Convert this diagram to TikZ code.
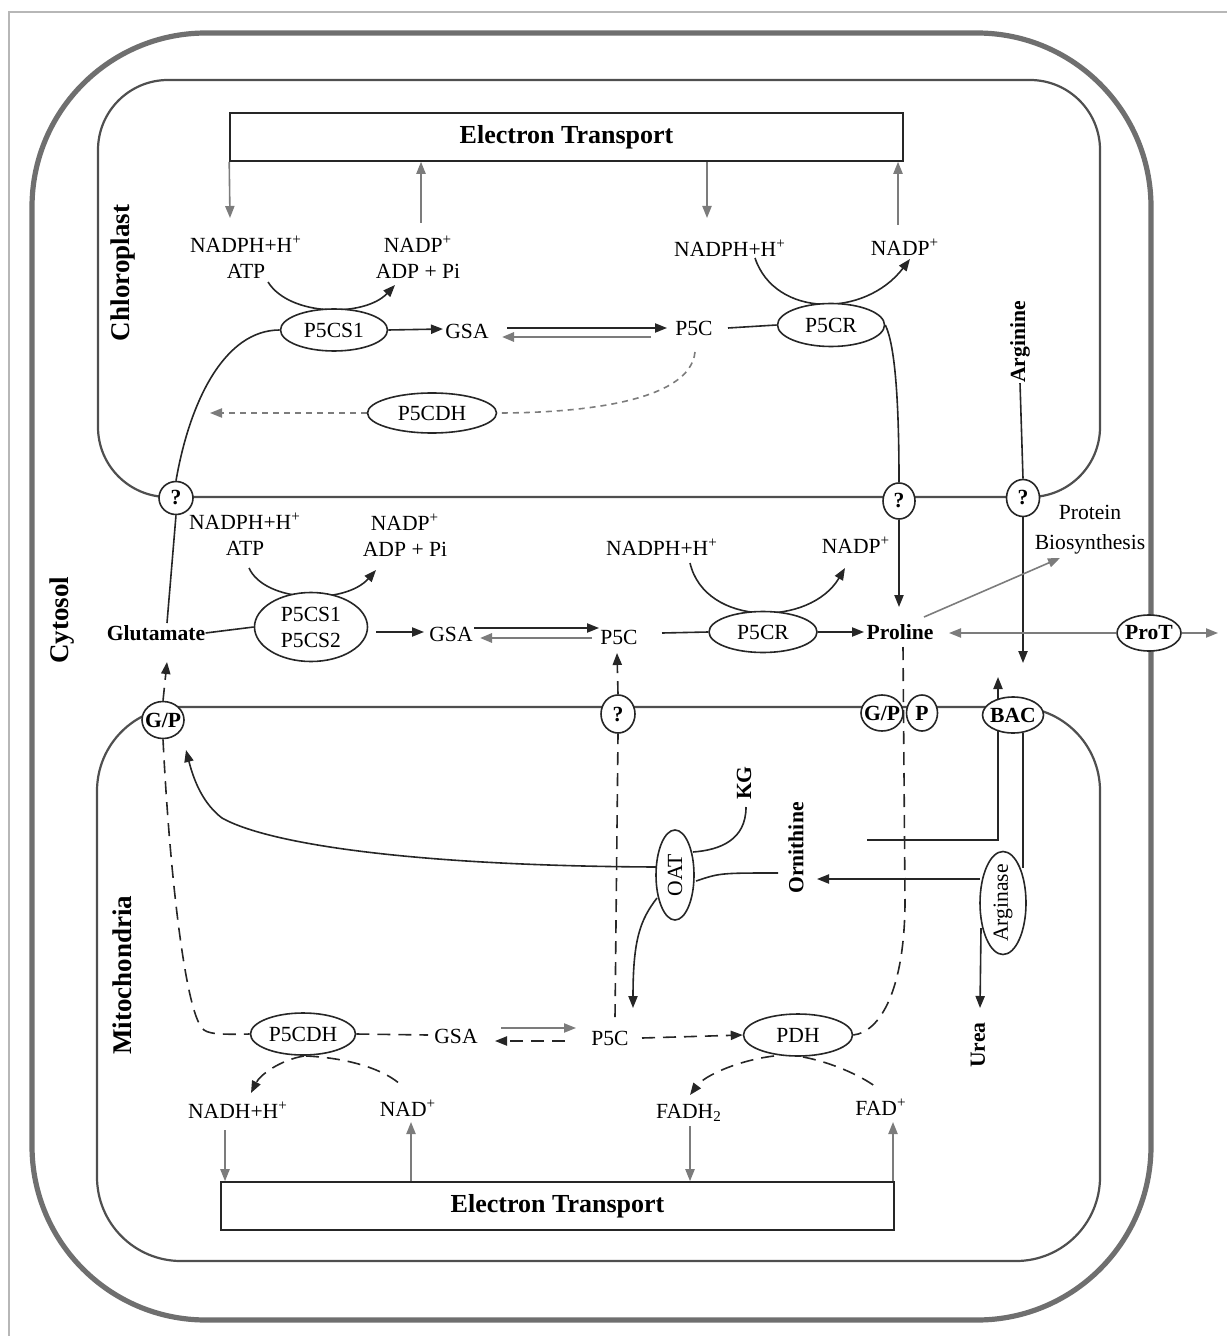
\documentclass[tikz,border=0pt]{standalone}
\usepackage{fontspec}
\setmainfont{Liberation Serif}
\usetikzlibrary{arrows.meta,shapes.geometric,backgrounds}
\definecolor{ln}{HTML}{262626}
\definecolor{gr}{HTML}{7C7C7C}
\definecolor{wall}{HTML}{6F6F6F}
\definecolor{memb}{HTML}{4F4F4F}
\tikzset{
  lab/.style={inner sep=0pt, align=center, font=\fontsize{10.8}{13}\selectfont},
  blab/.style={inner sep=0pt, align=center, font=\fontsize{10.8}{13}\selectfont\bfseries},
  rblab/.style={blab, rotate=90},
  cmp/.style={inner sep=0pt, rotate=90, font=\fontsize{13.5}{16}\selectfont\bfseries},
  enz/.style={ellipse, draw=ln, line width=0.8pt, fill=white, inner sep=0pt, align=center, font=\fontsize{10.8}{13}\selectfont},
  trn/.style={ellipse, draw=ln, line width=0.8pt, fill=white, inner xsep=-3pt, inner ysep=-1pt, font=\fontsize{10.8}{13}\selectfont\bfseries},
  etbox/.style={rectangle, draw=ln, line width=0.8pt, fill=white, inner sep=0pt, minimum width=336.5pt, minimum height=24pt, font=\fontsize{13}{15}\selectfont\bfseries},
  con/.style={draw=ln, line width=0.8pt},
  arr/.style={con, -{Triangle[length=6pt,width=4.6pt]}},
  garr/.style={draw=gr, line width=0.8pt, -{Triangle[length=6pt,width=4.6pt]}},
  dsh/.style={con, dash pattern=on 6.5pt off 4pt},
  darr/.style={dsh, -{Triangle[length=6pt,width=4.6pt]}},
  gdsh/.style={draw=gr, line width=0.8pt, dash pattern=on 3pt off 2.5pt},
  gdarr/.style={gdsh, -{Triangle[length=6pt,width=4.6pt]}},
  cmpt/.style={draw=memb, line width=1.1pt},
}
\begin{document}
\begin{tikzpicture}[x=0.5pt,y=-0.5pt]
\useasboundingbox (0,0) rectangle (1227,1336);

% ---------- nodes ----------
\node[etbox] (etT) at (566.5,137) {Electron Transport};
\node[etbox] (etB) at (557.5,1206) {Electron Transport};

\node[cmp] (chl) at (123,273) {Chloroplast};
\node[cmp] (cyt) at (62,620) {Cytosol};
\node[cmp] (mit) at (122,975) {Mitochondria};

% chloroplast
\node[lab] (t1) at (246,257) {NADPH+H\textsuperscript{+}\\ATP};
\node[lab] (t2) at (418,257) {NADP\textsuperscript{+}\\ADP + Pi};
\node[enz, minimum width=53.5pt, minimum height=21pt] (e1) at (334,330) {P5CS1};
\node[lab] (gsa1) at (467,331) {GSA};
\node[lab] (p5c1) at (694,328) {P5C};
\node[enz, minimum width=53.5pt, minimum height=21.5pt] (e2) at (831,325) {P5CR};
\node[lab] (t3) at (730,248) {NADPH+H\textsuperscript{+}};
\node[lab] (t4) at (905,247) {NADP\textsuperscript{+}};
\node[enz, minimum width=64.5pt, minimum height=20pt] (e3) at (432,413) {P5CDH};
\node[rblab] (arg) at (1020,342) {Arginine};

% transporters
\node[trn, minimum width=17pt, minimum height=16.5pt] (q1) at (176,498) {?};
\node[trn, minimum width=16pt, minimum height=18pt] (q2) at (899,501) {?};
\node[trn, minimum width=16.5pt, minimum height=18.5pt] (q3) at (1023,498) {?};
\node[trn, minimum width=21pt, minimum height=18.5pt] (gp1) at (163,720) {G/P};
\node[trn, minimum width=17pt, minimum height=19pt] (q4) at (618,714) {?};
\node[trn, minimum width=21pt, minimum height=18pt] (gp2) at (882,713) {G/P};
\node[trn, minimum width=15.5pt, minimum height=18pt] (pp) at (922,713) {P};
\node[trn, minimum width=30.5pt, minimum height=18pt] (bac) at (1013,715) {BAC};
\node[trn, minimum width=32pt, minimum height=18pt] (prot) at (1149,633) {ProT};

% cytosol
\node[lab] (t5) at (245,534) {NADPH+H\textsuperscript{+}\\ATP};
\node[lab] (t6) at (405,535) {NADP\textsuperscript{+}\\ADP + Pi};
\node[blab] (glu) at (156,633) {Glutamate};
\node[enz, minimum width=56.5pt, minimum height=34.5pt] (e4) at (311,627) {P5CS1\\P5CS2};
\node[lab] (gsa2) at (451,634) {GSA};
\node[lab] (p5c2) at (619,637) {P5C};
\node[enz, minimum width=54pt, minimum height=20.5pt] (e5) at (763,632) {P5CR};
\node[blab] (pro) at (900,632) {Proline};
\node[lab] (t7) at (662,547) {NADPH+H\textsuperscript{+}};
\node[lab] (t8) at (856,545) {NADP\textsuperscript{+}};
\node[lab, font=\fontsize{10.8}{15}\selectfont] (pbs) at (1090,530) {Protein\\Biosynthesis};

% mitochondria
\node[rblab] (kg) at (744,783) {KG};
\node[rblab] (orn) at (796,848) {Ornithine};
\node[enz, rotate=90, minimum width=45pt, minimum height=19pt] (oat) at (675,875) {OAT};
\node[enz, rotate=90, inner xsep=-2pt, minimum width=51.5pt, minimum height=23pt] (ase) at (1003,903) {Arginase};
\node[rblab] (urea) at (978,1045) {Urea};
\node[enz, minimum width=52.5pt, minimum height=21pt] (e6) at (303,1034) {P5CDH};
\node[lab] (gsa3) at (456,1036) {GSA};
\node[lab] (p5c3) at (610,1038) {P5C};
\node[enz, minimum width=54.5pt, minimum height=21pt] (e7) at (798,1035) {PDH};
\node[lab] (t9) at (238,1110) {NADH+H\textsuperscript{+}};
\node[lab] (t10) at (408,1108) {NAD\textsuperscript{+}};
\node[lab] (t11) at (689,1113) {FADH\textsubscript{2}};
\node[lab] (t12) at (881,1107) {FAD\textsuperscript{+}};

% free ends
\coordinate (c1) at (230,218);
\coordinate (c2) at (421,223);
\coordinate (c3) at (707,218);
\coordinate (c4) at (898,225);
\coordinate (proT) at (899,607);
\coordinate (pbsT) at (1060,558);
\coordinate (proS) at (924,617);
\coordinate (proL) at (949,633);
\coordinate (cellR) at (1218,633);
\coordinate (gluU) at (167,662);
\coordinate (p5cU) at (617,653);
\coordinate (gpA) at (186,750);
\coordinate (argD) at (1023,663);
\coordinate (bacU) at (998,677);
\coordinate (ornL) at (867,840);
\coordinate (ureaT) at (980,1008);
\coordinate (oatP) at (633,1008);
\coordinate (b1) at (225,1130);
\coordinate (b2) at (411,1122);
\coordinate (b3) at (690,1126);
\coordinate (b4) at (893,1122);

% ---------- lines (behind nodes) ----------
\begin{pgfonlayer}{background}
\draw[gr!55, line width=0.6pt] (9,1336) -- (9,12) -- (1227,12);
\draw[draw=wall, line width=2.6pt, rounded corners=87pt] (32,33) rectangle (1151,1320);
\draw[cmpt, rounded corners=35pt] (98,80) rectangle (1100,497);
\draw[cmpt, rounded corners=42pt] (97,707) rectangle (1100,1261);

% chloroplast
\draw[garr] (etT.south west) -- (c1);
\draw[garr] (c2) -- (c2 |- etT.south);
\draw[garr] (c3 |- etT.south) -- (c3);
\draw[garr] (c4) -- (c4 |- etT.south);
\draw[arr] (268,282) .. controls (290,317) and (365,317) .. (395,285);
\draw[arr] (e1.east) -- (443,329);
\draw[arr] (507,328) -- (667,328);
\draw[garr, line width=1.2pt] (651,337) -- (502,337);
\draw[con] (728,328) -- (e2.west);
\draw[arr] (755,258) .. controls (775,318) and (865,318) .. (910,259);
\draw[con] (e2.east) .. controls (895,345) and (899,400) .. (q2.north);
\draw[arr] (q2.south) -- (proT);
\draw[gdsh] (695,352) .. controls (690,402) and (580,413) .. (e3.east);
\draw[gdarr] (e3.west) -- (210,413);
\draw[con] (e1.west) .. controls (225,330) and (190,400) .. (q1.north);
\draw[con] (q1.south) -- (167,623);
\draw[con] (arg.west) -- (q3.north);
\draw[arr] (q3.south) -- (argD);
\draw[con] (1023,733) -- (1023,868);

% cytosol
\draw[arr] (249,568) .. controls (265,603) and (345,605) .. (376,570);
\draw[con] (glu.east) -- (e4.west);
\draw[arr] (376,632) -- (424,632);
\draw[arr] (474,628) -- (599,628);
\draw[garr, line width=1.2pt] (592,638) -- (480,638);
\draw[con] (662,633) -- (e5.west);
\draw[arr] (690,563) .. controls (705,627) and (810,627) .. (845,568);
\draw[arr] (e5.east) -- (864,632);
\draw[garr] (proS) -- (pbsT);
\draw[garr] (prot.west) -- (proL);
\draw[garr] (prot.east) -- (cellR);

% mitochondria
\draw[darr] (gp1.north) -- (gluU);
\draw[dsh] (gp1.south) .. controls (170,880) and (185,1000) .. (200,1025) .. controls (204,1033) and (210,1035) .. (e6.west);
\draw[dsh] (e6.east) -- (428,1035);
\draw[garr] (501,1028) -- (576,1028);
\draw[darr] (565,1041) -- (495,1041);
\draw[darr] (642,1038) -- (e7.west);
\draw[dsh] (615,1017) -- (q4.south);
\draw[darr] (q4.north) -- (p5cU);
\draw[dsh] (903,647) -- (905,900) .. controls (905,990) and (880,1032) .. (e7.east);
\draw[arr] (657,867) .. controls (420,866) and (270,845) .. (222,818) .. controls (205,805) and (195,785) .. (gpA);
\draw[con] (746,807) .. controls (746,840) and (720,850) .. (693,852);
\draw[con] (696,881) .. controls (720,873) .. (778,873);
\draw[arr] (980,879) -- (817,879);
\draw[arr] (981,928) -- (ureaT);
\draw[arr] (657,898) .. controls (640,920) and (633,940) .. (oatP);
\draw[arr] (ornL) -- (998,840) -- (bacU);
\draw[darr] (774,1056) .. controls (740,1060) and (705,1075) .. (690,1095);
\draw[dsh] (803,1057) .. controls (830,1062) and (860,1075) .. (876,1087);
\draw[darr] (304,1056) .. controls (280,1060) and (260,1075) .. (251,1093);
\draw[dsh] (306,1056) .. controls (350,1058) and (385,1070) .. (401,1085);
\draw[garr] (b1) -- (b1 |- etB.north);
\draw[garr] (b2 |- etB.north) -- (b2);
\draw[garr] (b3) -- (b3 |- etB.north);
\draw[garr] (b4 |- etB.north) -- (b4);
\end{pgfonlayer}
\end{tikzpicture}
\end{document}
